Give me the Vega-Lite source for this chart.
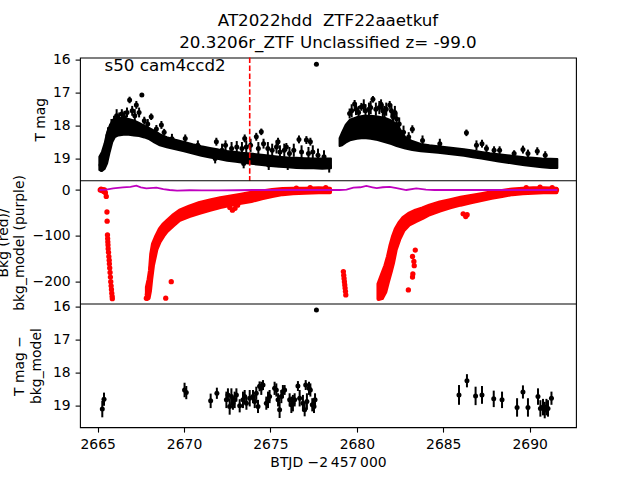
{
  "$schema": "https://vega.github.io/schema/vega-lite/v6.json",
  "width": 496,
  "height": 369.6,
  "autosize": {"type": "none"},
  "padding": {"left": 80, "top": 57.6, "right": 64, "bottom": 52.8},
  "title": {
    "text": ["AT2022hdd\u00a0 ZTF22aaetkuf", "20.3206r_ZTF Unclassified z= -99.0"],
    "anchor": "middle",
    "frame": "group",
    "fontSize": 16.7,
    "fontWeight": "normal",
    "color": "black",
    "lineHeight": 22,
    "baseline": "bottom",
    "offset": 6,
    "dy": 22
  },
  "datasets": {
    "topBand": [
      {"t": 2665.10, "lo": 18.95, "hi": 19.35, "g": 1},
      {"t": 2665.25, "lo": 18.80, "hi": 19.38, "g": 1},
      {"t": 2665.40, "lo": 18.55, "hi": 19.32, "g": 1},
      {"t": 2665.55, "lo": 18.20, "hi": 19.15, "g": 1},
      {"t": 2665.70, "lo": 18.00, "hi": 18.80, "g": 1},
      {"t": 2665.85, "lo": 17.85, "hi": 18.50, "g": 1},
      {"t": 2666.00, "lo": 17.80, "hi": 18.35, "g": 1},
      {"t": 2666.20, "lo": 17.78, "hi": 18.30, "g": 1},
      {"t": 2666.50, "lo": 17.78, "hi": 18.28, "g": 1},
      {"t": 2666.80, "lo": 17.80, "hi": 18.28, "g": 1},
      {"t": 2667.10, "lo": 17.84, "hi": 18.30, "g": 1},
      {"t": 2667.40, "lo": 17.92, "hi": 18.32, "g": 1},
      {"t": 2667.70, "lo": 18.00, "hi": 18.36, "g": 1},
      {"t": 2668.00, "lo": 18.08, "hi": 18.42, "g": 1},
      {"t": 2668.30, "lo": 18.16, "hi": 18.52, "g": 1},
      {"t": 2668.60, "lo": 18.26, "hi": 18.60, "g": 1},
      {"t": 2669.00, "lo": 18.35, "hi": 18.66, "g": 1},
      {"t": 2669.50, "lo": 18.43, "hi": 18.72, "g": 1},
      {"t": 2670.00, "lo": 18.50, "hi": 18.78, "g": 1},
      {"t": 2670.50, "lo": 18.57, "hi": 18.85, "g": 1},
      {"t": 2671.00, "lo": 18.63, "hi": 18.92, "g": 1},
      {"t": 2671.50, "lo": 18.68, "hi": 18.97, "g": 1},
      {"t": 2672.00, "lo": 18.73, "hi": 19.02, "g": 1},
      {"t": 2672.50, "lo": 18.77, "hi": 19.07, "g": 1},
      {"t": 2673.00, "lo": 18.80, "hi": 19.10, "g": 1},
      {"t": 2673.50, "lo": 18.83, "hi": 19.14, "g": 1},
      {"t": 2674.00, "lo": 18.86, "hi": 19.17, "g": 1},
      {"t": 2674.50, "lo": 18.89, "hi": 19.20, "g": 1},
      {"t": 2675.00, "lo": 18.92, "hi": 19.23, "g": 1},
      {"t": 2675.50, "lo": 18.95, "hi": 19.25, "g": 1},
      {"t": 2676.00, "lo": 18.97, "hi": 19.27, "g": 1},
      {"t": 2676.50, "lo": 18.98, "hi": 19.29, "g": 1},
      {"t": 2677.00, "lo": 18.99, "hi": 19.30, "g": 1},
      {"t": 2677.50, "lo": 19.00, "hi": 19.30, "g": 1},
      {"t": 2678.00, "lo": 19.00, "hi": 19.31, "g": 1},
      {"t": 2678.50, "lo": 19.00, "hi": 19.30, "g": 1},
      {"t": 2679.00, "lo": 18.38, "hi": 18.62, "g": 2},
      {"t": 2679.15, "lo": 18.20, "hi": 18.60, "g": 2},
      {"t": 2679.35, "lo": 17.98, "hi": 18.52, "g": 2},
      {"t": 2679.60, "lo": 17.82, "hi": 18.45, "g": 2},
      {"t": 2680.00, "lo": 17.74, "hi": 18.40, "g": 2},
      {"t": 2680.40, "lo": 17.70, "hi": 18.38, "g": 2},
      {"t": 2680.80, "lo": 17.70, "hi": 18.40, "g": 2},
      {"t": 2681.20, "lo": 17.72, "hi": 18.44, "g": 2},
      {"t": 2681.60, "lo": 17.76, "hi": 18.50, "g": 2},
      {"t": 2682.00, "lo": 17.84, "hi": 18.56, "g": 2},
      {"t": 2682.30, "lo": 17.95, "hi": 18.62, "g": 2},
      {"t": 2682.55, "lo": 18.15, "hi": 18.66, "g": 2},
      {"t": 2682.80, "lo": 18.35, "hi": 18.70, "g": 2},
      {"t": 2683.20, "lo": 18.47, "hi": 18.74, "g": 2},
      {"t": 2683.70, "lo": 18.56, "hi": 18.78, "g": 2},
      {"t": 2684.20, "lo": 18.60, "hi": 18.80, "g": 2},
      {"t": 2684.70, "lo": 18.63, "hi": 18.83, "g": 2},
      {"t": 2685.20, "lo": 18.66, "hi": 18.86, "g": 2},
      {"t": 2685.70, "lo": 18.69, "hi": 18.89, "g": 2},
      {"t": 2686.20, "lo": 18.72, "hi": 18.92, "g": 2},
      {"t": 2686.70, "lo": 18.76, "hi": 18.96, "g": 2},
      {"t": 2687.20, "lo": 18.80, "hi": 19.00, "g": 2},
      {"t": 2687.70, "lo": 18.84, "hi": 19.05, "g": 2},
      {"t": 2688.20, "lo": 18.87, "hi": 19.09, "g": 2},
      {"t": 2688.70, "lo": 18.90, "hi": 19.13, "g": 2},
      {"t": 2689.20, "lo": 18.93, "hi": 19.17, "g": 2},
      {"t": 2689.70, "lo": 18.96, "hi": 19.21, "g": 2},
      {"t": 2690.20, "lo": 18.98, "hi": 19.24, "g": 2},
      {"t": 2690.70, "lo": 19.00, "hi": 19.27, "g": 2},
      {"t": 2691.20, "lo": 19.01, "hi": 19.29, "g": 2},
      {"t": 2691.60, "lo": 19.02, "hi": 19.29, "g": 2}
    ],
    "topErr": [
      {"t": 2665.20, "m": 19.20, "e": 0.20},
      {"t": 2665.60, "m": 18.30, "e": 0.25},
      {"t": 2665.80, "m": 18.00, "e": 0.20},
      {"t": 2665.95, "m": 17.85, "e": 0.15},
      {"t": 2666.10, "m": 17.70, "e": 0.20},
      {"t": 2666.25, "m": 17.80, "e": 0.20},
      {"t": 2666.40, "m": 17.65, "e": 0.15},
      {"t": 2666.55, "m": 17.75, "e": 0.20},
      {"t": 2666.70, "m": 17.60, "e": 0.15},
      {"t": 2666.85, "m": 17.22, "e": 0.10},
      {"t": 2667.00, "m": 17.55, "e": 0.15},
      {"t": 2667.15, "m": 17.70, "e": 0.20},
      {"t": 2667.24, "m": 17.37, "e": 0.12},
      {"t": 2667.40, "m": 17.60, "e": 0.15},
      {"t": 2667.56, "m": 17.07, "e": 0.05},
      {"t": 2667.70, "m": 17.85, "e": 0.12},
      {"t": 2667.90, "m": 17.95, "e": 0.15},
      {"t": 2668.10, "m": 17.73, "e": 0.10},
      {"t": 2668.40, "m": 18.10, "e": 0.12},
      {"t": 2668.69, "m": 17.98, "e": 0.12},
      {"t": 2668.85, "m": 18.20, "e": 0.10},
      {"t": 2669.30, "m": 18.40, "e": 0.15},
      {"t": 2670.07, "m": 18.39, "e": 0.12},
      {"t": 2670.80, "m": 18.60, "e": 0.15},
      {"t": 2671.80, "m": 19.00, "e": 0.15},
      {"t": 2671.87, "m": 18.49, "e": 0.12},
      {"t": 2672.20, "m": 18.75, "e": 0.20},
      {"t": 2672.40, "m": 18.60, "e": 0.15},
      {"t": 2672.75, "m": 18.70, "e": 0.20},
      {"t": 2673.05, "m": 18.65, "e": 0.18},
      {"t": 2673.35, "m": 18.70, "e": 0.20},
      {"t": 2673.45, "m": 19.15, "e": 0.15},
      {"t": 2673.51, "m": 18.39, "e": 0.12},
      {"t": 2673.60, "m": 18.65, "e": 0.20},
      {"t": 2673.85, "m": 18.60, "e": 0.20},
      {"t": 2674.18, "m": 18.34, "e": 0.12},
      {"t": 2674.30, "m": 18.70, "e": 0.20},
      {"t": 2674.47, "m": 18.19, "e": 0.10},
      {"t": 2674.60, "m": 18.55, "e": 0.15},
      {"t": 2674.85, "m": 18.70, "e": 0.20},
      {"t": 2674.90, "m": 19.20, "e": 0.15},
      {"t": 2675.10, "m": 18.75, "e": 0.20},
      {"t": 2675.35, "m": 18.65, "e": 0.20},
      {"t": 2675.44, "m": 18.49, "e": 0.12},
      {"t": 2675.55, "m": 18.80, "e": 0.20},
      {"t": 2675.80, "m": 18.75, "e": 0.20},
      {"t": 2675.92, "m": 18.65, "e": 0.12},
      {"t": 2676.00, "m": 19.20, "e": 0.15},
      {"t": 2676.10, "m": 18.85, "e": 0.20},
      {"t": 2676.35, "m": 18.75, "e": 0.20},
      {"t": 2676.65, "m": 18.42, "e": 0.12},
      {"t": 2676.80, "m": 18.80, "e": 0.20},
      {"t": 2677.08, "m": 18.44, "e": 0.12},
      {"t": 2677.20, "m": 18.85, "e": 0.20},
      {"t": 2677.31, "m": 18.49, "e": 0.12},
      {"t": 2677.45, "m": 18.80, "e": 0.20},
      {"t": 2677.75, "m": 18.90, "e": 0.20},
      {"t": 2678.10, "m": 18.95, "e": 0.20},
      {"t": 2678.40, "m": 19.25, "e": 0.18},
      {"t": 2679.58, "m": 17.63, "e": 0.15},
      {"t": 2679.70, "m": 17.55, "e": 0.20},
      {"t": 2679.87, "m": 17.34, "e": 0.12},
      {"t": 2679.95, "m": 17.50, "e": 0.18},
      {"t": 2680.10, "m": 17.60, "e": 0.20},
      {"t": 2680.26, "m": 17.43, "e": 0.12},
      {"t": 2680.40, "m": 17.40, "e": 0.20},
      {"t": 2680.50, "m": 17.55, "e": 0.20},
      {"t": 2680.70, "m": 17.50, "e": 0.20},
      {"t": 2680.80, "m": 17.45, "e": 0.20},
      {"t": 2680.93, "m": 17.20, "e": 0.10},
      {"t": 2681.10, "m": 17.50, "e": 0.20},
      {"t": 2681.30, "m": 17.45, "e": 0.20},
      {"t": 2681.40, "m": 17.35, "e": 0.15},
      {"t": 2681.50, "m": 17.55, "e": 0.20},
      {"t": 2681.60, "m": 17.60, "e": 0.20},
      {"t": 2681.70, "m": 17.50, "e": 0.20},
      {"t": 2681.90, "m": 17.37, "e": 0.12},
      {"t": 2682.00, "m": 17.55, "e": 0.20},
      {"t": 2682.09, "m": 17.73, "e": 0.15},
      {"t": 2682.20, "m": 17.60, "e": 0.20},
      {"t": 2682.30, "m": 17.80, "e": 0.20},
      {"t": 2682.45, "m": 17.95, "e": 0.20},
      {"t": 2682.70, "m": 18.20, "e": 0.20},
      {"t": 2683.00, "m": 18.35, "e": 0.15},
      {"t": 2683.21, "m": 18.11, "e": 0.12},
      {"t": 2683.80, "m": 18.45, "e": 0.15},
      {"t": 2684.80, "m": 18.55, "e": 0.15},
      {"t": 2686.34, "m": 18.22, "e": 0.10},
      {"t": 2686.92, "m": 18.60, "e": 0.15},
      {"t": 2687.24, "m": 18.55, "e": 0.12},
      {"t": 2687.50, "m": 18.70, "e": 0.12},
      {"t": 2687.94, "m": 18.75, "e": 0.12},
      {"t": 2688.26, "m": 18.75, "e": 0.12},
      {"t": 2689.10, "m": 18.85, "e": 0.10},
      {"t": 2689.61, "m": 18.73, "e": 0.12},
      {"t": 2689.90, "m": 18.85, "e": 0.12},
      {"t": 2690.44, "m": 18.78, "e": 0.12},
      {"t": 2690.90, "m": 18.90, "e": 0.12}
    ],
    "redBand": [
      {"t": 2667.85, "lo": -238, "hi": -212, "g": 1},
      {"t": 2667.95, "lo": -236, "hi": -195, "g": 1},
      {"t": 2668.03, "lo": -220, "hi": -175, "g": 1},
      {"t": 2668.10, "lo": -195, "hi": -140, "g": 1},
      {"t": 2668.20, "lo": -165, "hi": -118, "g": 1},
      {"t": 2668.40, "lo": -130, "hi": -100, "g": 1},
      {"t": 2668.60, "lo": -112, "hi": -85, "g": 1},
      {"t": 2668.80, "lo": -100, "hi": -75, "g": 1},
      {"t": 2669.00, "lo": -90, "hi": -68, "g": 1},
      {"t": 2669.35, "lo": -78, "hi": -56, "g": 1},
      {"t": 2669.75, "lo": -65, "hi": -45, "g": 1},
      {"t": 2670.30, "lo": -57, "hi": -36, "g": 1},
      {"t": 2670.90, "lo": -50, "hi": -28, "g": 1},
      {"t": 2671.50, "lo": -43, "hi": -23, "g": 1},
      {"t": 2672.10, "lo": -37, "hi": -18, "g": 1},
      {"t": 2672.70, "lo": -32, "hi": -14, "g": 1},
      {"t": 2673.30, "lo": -28, "hi": -10, "g": 1},
      {"t": 2673.90, "lo": -24, "hi": -6, "g": 1},
      {"t": 2674.50, "lo": -18, "hi": -3, "g": 1},
      {"t": 2675.10, "lo": -13, "hi": 0, "g": 1},
      {"t": 2675.70, "lo": -9, "hi": 2, "g": 1},
      {"t": 2676.30, "lo": -7, "hi": 3, "g": 1},
      {"t": 2677.00, "lo": -6, "hi": 3, "g": 1},
      {"t": 2677.80, "lo": -5, "hi": 4, "g": 1},
      {"t": 2678.45, "lo": -5, "hi": 3, "g": 1},
      {"t": 2681.25, "lo": -238, "hi": -205, "g": 2},
      {"t": 2681.45, "lo": -236, "hi": -185, "g": 2},
      {"t": 2681.65, "lo": -222, "hi": -165, "g": 2},
      {"t": 2681.80, "lo": -200, "hi": -145, "g": 2},
      {"t": 2681.95, "lo": -180, "hi": -120, "g": 2},
      {"t": 2682.10, "lo": -158, "hi": -100, "g": 2},
      {"t": 2682.25, "lo": -130, "hi": -85, "g": 2},
      {"t": 2682.45, "lo": -108, "hi": -72, "g": 2},
      {"t": 2682.70, "lo": -88, "hi": -60, "g": 2},
      {"t": 2683.00, "lo": -76, "hi": -52, "g": 2},
      {"t": 2683.40, "lo": -68, "hi": -45, "g": 2},
      {"t": 2683.80, "lo": -61, "hi": -40, "g": 2},
      {"t": 2684.20, "lo": -53, "hi": -34, "g": 2},
      {"t": 2684.80, "lo": -45, "hi": -27, "g": 2},
      {"t": 2685.40, "lo": -38, "hi": -22, "g": 2},
      {"t": 2686.00, "lo": -32, "hi": -17, "g": 2},
      {"t": 2686.60, "lo": -27, "hi": -13, "g": 2},
      {"t": 2687.20, "lo": -22, "hi": -9, "g": 2},
      {"t": 2687.80, "lo": -17, "hi": -5, "g": 2},
      {"t": 2688.40, "lo": -13, "hi": -2, "g": 2},
      {"t": 2689.00, "lo": -9, "hi": 1, "g": 2},
      {"t": 2689.60, "lo": -7, "hi": 3, "g": 2},
      {"t": 2690.20, "lo": -6, "hi": 4, "g": 2},
      {"t": 2690.80, "lo": -5, "hi": 4, "g": 2},
      {"t": 2691.55, "lo": -5, "hi": 3, "g": 2}
    ],
    "redPts": [
      {"t": 2665.15, "v": 0}, {"t": 2665.20, "v": 2}, {"t": 2665.25, "v": -1}, {"t": 2665.30, "v": 1},
      {"t": 2665.35, "v": -3}, {"t": 2665.40, "v": 0}, {"t": 2665.45, "v": -6}, {"t": 2665.50, "v": -14},
      {"t": 2665.54, "v": -48}, {"t": 2665.55, "v": -68}, {"t": 2665.57, "v": -98}, {"t": 2665.58, "v": -106},
      {"t": 2665.59, "v": -113}, {"t": 2665.60, "v": -120}, {"t": 2665.61, "v": -128}, {"t": 2665.63, "v": -136},
      {"t": 2665.65, "v": -145}, {"t": 2665.67, "v": -153}, {"t": 2665.68, "v": -161}, {"t": 2665.70, "v": -170},
      {"t": 2665.72, "v": -180}, {"t": 2665.74, "v": -190}, {"t": 2665.76, "v": -200}, {"t": 2665.78, "v": -209},
      {"t": 2665.80, "v": -217}, {"t": 2665.82, "v": -225}, {"t": 2665.84, "v": -232}, {"t": 2665.85, "v": -237},
      {"t": 2667.82, "v": -236}, {"t": 2667.88, "v": -228}, {"t": 2667.93, "v": -218}, {"t": 2668.00, "v": -200},
      {"t": 2668.05, "v": -190}, {"t": 2668.10, "v": -170},
      {"t": 2668.94, "v": -236}, {"t": 2669.26, "v": -200},
      {"t": 2672.50, "v": -30}, {"t": 2672.65, "v": -38}, {"t": 2672.80, "v": -44}, {"t": 2672.95, "v": -40}, {"t": 2673.10, "v": -33},
      {"t": 2676.50, "v": 4}, {"t": 2677.30, "v": 5}, {"t": 2678.20, "v": 5},
      {"t": 2679.22, "v": -178}, {"t": 2679.24, "v": -186}, {"t": 2679.26, "v": -193}, {"t": 2679.28, "v": -200},
      {"t": 2679.30, "v": -207}, {"t": 2679.32, "v": -214}, {"t": 2679.34, "v": -221}, {"t": 2679.36, "v": -229},
      {"t": 2683.38, "v": -131}, {"t": 2683.22, "v": -145}, {"t": 2683.30, "v": -156}, {"t": 2683.32, "v": -165},
      {"t": 2683.24, "v": -183}, {"t": 2683.22, "v": -190}, {"t": 2682.98, "v": -218},
      {"t": 2686.15, "v": -52}, {"t": 2686.30, "v": -58}, {"t": 2686.38, "v": -54},
      {"t": 2689.80, "v": 5}, {"t": 2690.60, "v": 6}, {"t": 2691.30, "v": 5}, {"t": 2691.55, "v": 0}
    ],
    "model": [
      {"t": 2665.10, "v": 0}, {"t": 2665.50, "v": 1}, {"t": 2665.90, "v": 3.6}, {"t": 2666.46, "v": 5.8},
      {"t": 2666.90, "v": 7}, {"t": 2667.24, "v": 9.5}, {"t": 2667.50, "v": 6}, {"t": 2667.82, "v": 3.6},
      {"t": 2668.40, "v": 5}, {"t": 2668.80, "v": 2}, {"t": 2669.17, "v": 0}, {"t": 2669.60, "v": -1.5},
      {"t": 2670.32, "v": -0.5}, {"t": 2671.00, "v": -1}, {"t": 2672.00, "v": -1}, {"t": 2673.00, "v": -0.5},
      {"t": 2674.00, "v": 0}, {"t": 2675.00, "v": 0.5}, {"t": 2676.00, "v": 0}, {"t": 2677.00, "v": 0},
      {"t": 2678.00, "v": 0}, {"t": 2678.50, "v": 0}, {"t": 2679.00, "v": 0}, {"t": 2679.40, "v": 1},
      {"t": 2679.80, "v": 5}, {"t": 2680.20, "v": 6}, {"t": 2680.55, "v": 9}, {"t": 2680.90, "v": 6},
      {"t": 2681.15, "v": 4}, {"t": 2681.50, "v": 6}, {"t": 2681.90, "v": 7}, {"t": 2682.30, "v": 4},
      {"t": 2682.86, "v": 0}, {"t": 2683.44, "v": 3.6}, {"t": 2684.00, "v": 1}, {"t": 2684.50, "v": 0},
      {"t": 2685.50, "v": 0}, {"t": 2686.50, "v": 0}, {"t": 2687.50, "v": 0}, {"t": 2688.50, "v": 0},
      {"t": 2689.50, "v": 0}, {"t": 2690.50, "v": 0}, {"t": 2691.60, "v": 0}
    ],
    "botErr": [
      {"t": 2665.27, "m": 19.12, "e": 0.25}, {"t": 2665.37, "m": 18.82, "e": 0.20},
      {"t": 2670.03, "m": 18.54, "e": 0.22}, {"t": 2670.13, "m": 18.62, "e": 0.20},
      {"t": 2671.54, "m": 18.87, "e": 0.22}, {"t": 2671.90, "m": 18.64, "e": 0.17},
      {"t": 2672.45, "m": 18.84, "e": 0.25}, {"t": 2672.54, "m": 18.69, "e": 0.20}, {"t": 2672.64, "m": 19.04, "e": 0.25},
      {"t": 2672.74, "m": 18.74, "e": 0.25}, {"t": 2672.83, "m": 18.94, "e": 0.20}, {"t": 2672.93, "m": 18.84, "e": 0.25},
      {"t": 2673.03, "m": 18.69, "e": 0.20}, {"t": 2673.22, "m": 19.02, "e": 0.20}, {"t": 2673.41, "m": 18.84, "e": 0.25},
      {"t": 2673.51, "m": 18.74, "e": 0.20}, {"t": 2673.61, "m": 18.94, "e": 0.20}, {"t": 2673.80, "m": 18.79, "e": 0.25},
      {"t": 2673.99, "m": 18.74, "e": 0.20}, {"t": 2674.09, "m": 18.89, "e": 0.20}, {"t": 2674.18, "m": 18.64, "e": 0.20},
      {"t": 2674.28, "m": 19.04, "e": 0.20}, {"t": 2674.37, "m": 18.43, "e": 0.15}, {"t": 2674.47, "m": 18.49, "e": 0.20},
      {"t": 2674.57, "m": 18.39, "e": 0.15}, {"t": 2674.76, "m": 18.94, "e": 0.20}, {"t": 2674.86, "m": 18.84, "e": 0.25},
      {"t": 2674.95, "m": 18.74, "e": 0.20}, {"t": 2675.24, "m": 18.49, "e": 0.20}, {"t": 2675.34, "m": 18.54, "e": 0.20},
      {"t": 2675.44, "m": 18.84, "e": 0.20}, {"t": 2675.53, "m": 19.14, "e": 0.25}, {"t": 2675.63, "m": 18.74, "e": 0.20},
      {"t": 2675.72, "m": 18.59, "e": 0.20}, {"t": 2675.82, "m": 18.54, "e": 0.15}, {"t": 2676.11, "m": 18.84, "e": 0.20},
      {"t": 2676.21, "m": 18.99, "e": 0.25}, {"t": 2676.30, "m": 18.94, "e": 0.25}, {"t": 2676.40, "m": 18.84, "e": 0.20},
      {"t": 2676.59, "m": 18.42, "e": 0.15}, {"t": 2676.69, "m": 18.79, "e": 0.25}, {"t": 2676.88, "m": 18.94, "e": 0.25},
      {"t": 2676.98, "m": 19.14, "e": 0.20}, {"t": 2677.04, "m": 18.39, "e": 0.15}, {"t": 2677.11, "m": 18.89, "e": 0.25},
      {"t": 2677.23, "m": 18.49, "e": 0.20}, {"t": 2677.31, "m": 18.54, "e": 0.20}, {"t": 2677.42, "m": 18.99, "e": 0.20},
      {"t": 2677.52, "m": 19.04, "e": 0.20}, {"t": 2677.58, "m": 18.84, "e": 0.20},
      {"t": 2685.91, "m": 18.69, "e": 0.30}, {"t": 2686.37, "m": 18.26, "e": 0.20}, {"t": 2686.87, "m": 18.72, "e": 0.28},
      {"t": 2687.24, "m": 18.69, "e": 0.27}, {"t": 2687.92, "m": 18.81, "e": 0.25}, {"t": 2688.40, "m": 18.84, "e": 0.25},
      {"t": 2689.27, "m": 19.07, "e": 0.28}, {"t": 2689.61, "m": 18.60, "e": 0.20}, {"t": 2689.90, "m": 19.07, "e": 0.28},
      {"t": 2690.48, "m": 18.74, "e": 0.25}, {"t": 2690.62, "m": 19.10, "e": 0.25}, {"t": 2690.77, "m": 19.06, "e": 0.25},
      {"t": 2690.87, "m": 19.15, "e": 0.25}, {"t": 2690.97, "m": 19.06, "e": 0.25}, {"t": 2691.06, "m": 19.10, "e": 0.25},
      {"t": 2691.26, "m": 18.79, "e": 0.20}
    ],
    "lone": [{"t": 2677.66, "m": 16.13}],
    "loneBot": [{"t": 2677.66, "m": 16.11}]
  },
  "layer": [
    {
      "layer": [
        {
          "data": {"name": "topBand"},
          "mark": {"type": "area", "color": "black", "stroke": "black", "strokeWidth": 2, "strokeJoin": "round"},
          "encoding": {
            "x": {"field": "t", "type": "quantitative", "scale": {"domain": [2663.98, 2692.68], "nice": false, "zero": false}, "axis": {"values": [2665, 2670, 2675, 2680, 2685, 2690], "format": "d", "title": "BTJD −2\u2009457\u2009000", "labelFlush": false}},
            "y": {"field": "lo", "type": "quantitative", "stack": null, "scale": {"domain": [15.93, 27.18], "reverse": true, "nice": false, "zero": false}, "axis": {"orient": "left", "values": [16, 17, 18, 19], "title": "T mag", "titleX": -33, "titleY": 61.6, "titleAngle": 270, "titleAlign": "center", "titleBaseline": "bottom"}},
            "y2": {"field": "hi"},
            "detail": {"field": "g"}
          }
        },
        {
          "data": {"name": "topErr"},
          "mark": {"type": "errorbar", "color": "black", "thickness": 2},
          "encoding": {
            "x": {"field": "t", "type": "quantitative", "scale": {"domain": [2663.98, 2692.68], "nice": false, "zero": false}, "axis": {"values": [2665, 2670, 2675, 2680, 2685, 2690], "format": "d", "title": "BTJD −2\u2009457\u2009000", "labelFlush": false}},
            "y": {"field": "m", "type": "quantitative", "scale": {"domain": [15.93, 27.18], "reverse": true, "nice": false, "zero": false}, "axis": {"orient": "left", "values": [16, 17, 18, 19], "title": "T mag", "titleX": -33, "titleY": 61.6, "titleAngle": 270, "titleAlign": "center", "titleBaseline": "bottom"}},
            "yError": {"field": "e"}
          }
        },
        {
          "data": {"name": "topErr"},
          "mark": {"type": "circle", "color": "black", "opacity": 1, "size": 25},
          "encoding": {
            "x": {"field": "t", "type": "quantitative", "scale": {"domain": [2663.98, 2692.68], "nice": false, "zero": false}, "axis": {"values": [2665, 2670, 2675, 2680, 2685, 2690], "format": "d", "title": "BTJD −2\u2009457\u2009000", "labelFlush": false}},
            "y": {"field": "m", "type": "quantitative", "scale": {"domain": [15.93, 27.18], "reverse": true, "nice": false, "zero": false}, "axis": {"orient": "left", "values": [16, 17, 18, 19], "title": "T mag", "titleX": -33, "titleY": 61.6, "titleAngle": 270, "titleAlign": "center", "titleBaseline": "bottom"}}
          }
        },
        {
          "data": {"name": "lone"},
          "mark": {"type": "circle", "color": "black", "opacity": 1, "size": 25},
          "encoding": {
            "x": {"field": "t", "type": "quantitative", "scale": {"domain": [2663.98, 2692.68], "nice": false, "zero": false}, "axis": {"values": [2665, 2670, 2675, 2680, 2685, 2690], "format": "d", "title": "BTJD −2\u2009457\u2009000", "labelFlush": false}},
            "y": {"field": "m", "type": "quantitative", "scale": {"domain": [15.93, 27.18], "reverse": true, "nice": false, "zero": false}, "axis": {"orient": "left", "values": [16, 17, 18, 19], "title": "T mag", "titleX": -33, "titleY": 61.6, "titleAngle": 270, "titleAlign": "center", "titleBaseline": "bottom"}}
          }
        },
        {
          "data": {"name": "lone"},
          "mark": {"type": "rule", "color": "red", "strokeWidth": 1.6, "strokeDash": [5.5, 2.4]},
          "encoding": {
            "x": {"datum": 2673.8, "type": "quantitative"},
            "y": {"datum": 15.93, "type": "quantitative"},
            "y2": {"datum": 19.68}
          }
        },
        {
          "data": {"name": "lone"},
          "mark": {"type": "rule", "color": "black", "strokeWidth": 1.1},
          "encoding": {"y": {"datum": 19.68, "type": "quantitative"}}
        },
        {
          "data": {"name": "lone"},
          "mark": {"type": "text", "align": "left", "baseline": "alphabetic", "fontSize": 16.7, "color": "black", "font": "DejaVu Sans"},
          "encoding": {
            "x": {"datum": 2665.4, "type": "quantitative"},
            "y": {"datum": 16.33, "type": "quantitative"},
            "text": {"value": "s50 cam4ccd2"}
          }
        }
      ]
    },
    {
      "layer": [
        {
          "data": {"name": "redBand"},
          "mark": {"type": "area", "color": "#ff0000", "stroke": "#ff0000", "strokeWidth": 4, "strokeJoin": "round"},
          "encoding": {
            "x": {"field": "t", "type": "quantitative", "scale": {"domain": [2663.98, 2692.68], "nice": false, "zero": false}, "axis": {"values": [2665, 2670, 2675, 2680, 2685, 2690], "format": "d", "title": "BTJD −2\u2009457\u2009000", "labelFlush": false}},
            "y": {"field": "lo", "type": "quantitative", "stack": null, "scale": {"domain": [-517.5, 288.9], "nice": false, "zero": false}, "axis": {"orient": "left", "values": [0, -100, -200], "labelExpr": "datum.value < 0 ? '\u2212' + format(-datum.value, 'd') : format(datum.value, 'd')", "title": ["Bkg (red)/", "bkg_model (purple)"], "titleX": -70, "titleY": 184.8, "titleAngle": 270, "titleAlign": "center", "titleBaseline": "bottom", "titleLineHeight": 16.5}},
            "y2": {"field": "hi"},
            "detail": {"field": "g"}
          }
        },
        {
          "data": {"name": "redPts"},
          "mark": {"type": "circle", "color": "#ff0000", "opacity": 1, "size": 28},
          "encoding": {
            "x": {"field": "t", "type": "quantitative", "scale": {"domain": [2663.98, 2692.68], "nice": false, "zero": false}, "axis": {"values": [2665, 2670, 2675, 2680, 2685, 2690], "format": "d", "title": "BTJD −2\u2009457\u2009000", "labelFlush": false}},
            "y": {"field": "v", "type": "quantitative", "scale": {"domain": [-517.5, 288.9], "nice": false, "zero": false}, "axis": {"orient": "left", "values": [0, -100, -200], "labelExpr": "datum.value < 0 ? '\u2212' + format(-datum.value, 'd') : format(datum.value, 'd')", "title": ["Bkg (red)/", "bkg_model (purple)"], "titleX": -70, "titleY": 184.8, "titleAngle": 270, "titleAlign": "center", "titleBaseline": "bottom", "titleLineHeight": 16.5}}
          }
        },
        {
          "data": {"name": "model"},
          "mark": {"type": "line", "color": "#bf00bf", "strokeWidth": 1.8},
          "encoding": {
            "x": {"field": "t", "type": "quantitative", "scale": {"domain": [2663.98, 2692.68], "nice": false, "zero": false}, "axis": {"values": [2665, 2670, 2675, 2680, 2685, 2690], "format": "d", "title": "BTJD −2\u2009457\u2009000", "labelFlush": false}},
            "y": {"field": "v", "type": "quantitative", "scale": {"domain": [-517.5, 288.9], "nice": false, "zero": false}, "axis": {"orient": "left", "values": [0, -100, -200], "labelExpr": "datum.value < 0 ? '\u2212' + format(-datum.value, 'd') : format(datum.value, 'd')", "title": ["Bkg (red)/", "bkg_model (purple)"], "titleX": -70, "titleY": 184.8, "titleAngle": 270, "titleAlign": "center", "titleBaseline": "bottom", "titleLineHeight": 16.5}}
          }
        }
      ]
    },
    {
      "layer": [
        {
          "data": {"name": "botErr"},
          "mark": {"type": "errorbar", "color": "black", "thickness": 2},
          "encoding": {
            "x": {"field": "t", "type": "quantitative", "scale": {"domain": [2663.98, 2692.68], "nice": false, "zero": false}, "axis": {"values": [2665, 2670, 2675, 2680, 2685, 2690], "format": "d", "title": "BTJD −2\u2009457\u2009000", "labelFlush": false}},
            "y": {"field": "m", "type": "quantitative", "scale": {"domain": [8.45, 19.67], "reverse": true, "nice": false, "zero": false}, "axis": {"orient": "left", "values": [16, 17, 18, 19], "title": ["T mag −", "bkg_model"], "titleX": -54, "titleY": 308, "titleAngle": 270, "titleAlign": "center", "titleBaseline": "bottom", "titleLineHeight": 17}},
            "yError": {"field": "e"}
          }
        },
        {
          "data": {"name": "botErr"},
          "mark": {"type": "circle", "color": "black", "opacity": 1, "size": 25},
          "encoding": {
            "x": {"field": "t", "type": "quantitative", "scale": {"domain": [2663.98, 2692.68], "nice": false, "zero": false}, "axis": {"values": [2665, 2670, 2675, 2680, 2685, 2690], "format": "d", "title": "BTJD −2\u2009457\u2009000", "labelFlush": false}},
            "y": {"field": "m", "type": "quantitative", "scale": {"domain": [8.45, 19.67], "reverse": true, "nice": false, "zero": false}, "axis": {"orient": "left", "values": [16, 17, 18, 19], "title": ["T mag −", "bkg_model"], "titleX": -54, "titleY": 308, "titleAngle": 270, "titleAlign": "center", "titleBaseline": "bottom", "titleLineHeight": 17}}
          }
        },
        {
          "data": {"name": "loneBot"},
          "mark": {"type": "circle", "color": "black", "opacity": 1, "size": 25},
          "encoding": {
            "x": {"field": "t", "type": "quantitative", "scale": {"domain": [2663.98, 2692.68], "nice": false, "zero": false}, "axis": {"values": [2665, 2670, 2675, 2680, 2685, 2690], "format": "d", "title": "BTJD −2\u2009457\u2009000", "labelFlush": false}},
            "y": {"field": "m", "type": "quantitative", "scale": {"domain": [8.45, 19.67], "reverse": true, "nice": false, "zero": false}, "axis": {"orient": "left", "values": [16, 17, 18, 19], "title": ["T mag −", "bkg_model"], "titleX": -54, "titleY": 308, "titleAngle": 270, "titleAlign": "center", "titleBaseline": "bottom", "titleLineHeight": 17}}
          }
        },
        {
          "data": {"name": "loneBot"},
          "mark": {"type": "rule", "color": "black", "strokeWidth": 1.1},
          "encoding": {"y": {"datum": 15.93, "type": "quantitative"}}
        }
      ]
    }
  ],
  "resolve": {"scale": {"y": "independent"}, "axis": {"y": "independent"}},
  "config": {
    "font": "DejaVu Sans",
    "view": {"stroke": "black", "strokeWidth": 1.1},
    "axis": {
      "grid": false,
      "domain": false,
      "tickColor": "black",
      "tickSize": 4.9,
      "tickWidth": 1.1,
      "labelColor": "black",
      "labelFontSize": 13.9,
      "labelPadding": 4.9,
      "titleColor": "black",
      "titleFontSize": 13.9,
      "titleFontWeight": "normal"
    },
    "axisX": {"titlePadding": 5}
  }
}
